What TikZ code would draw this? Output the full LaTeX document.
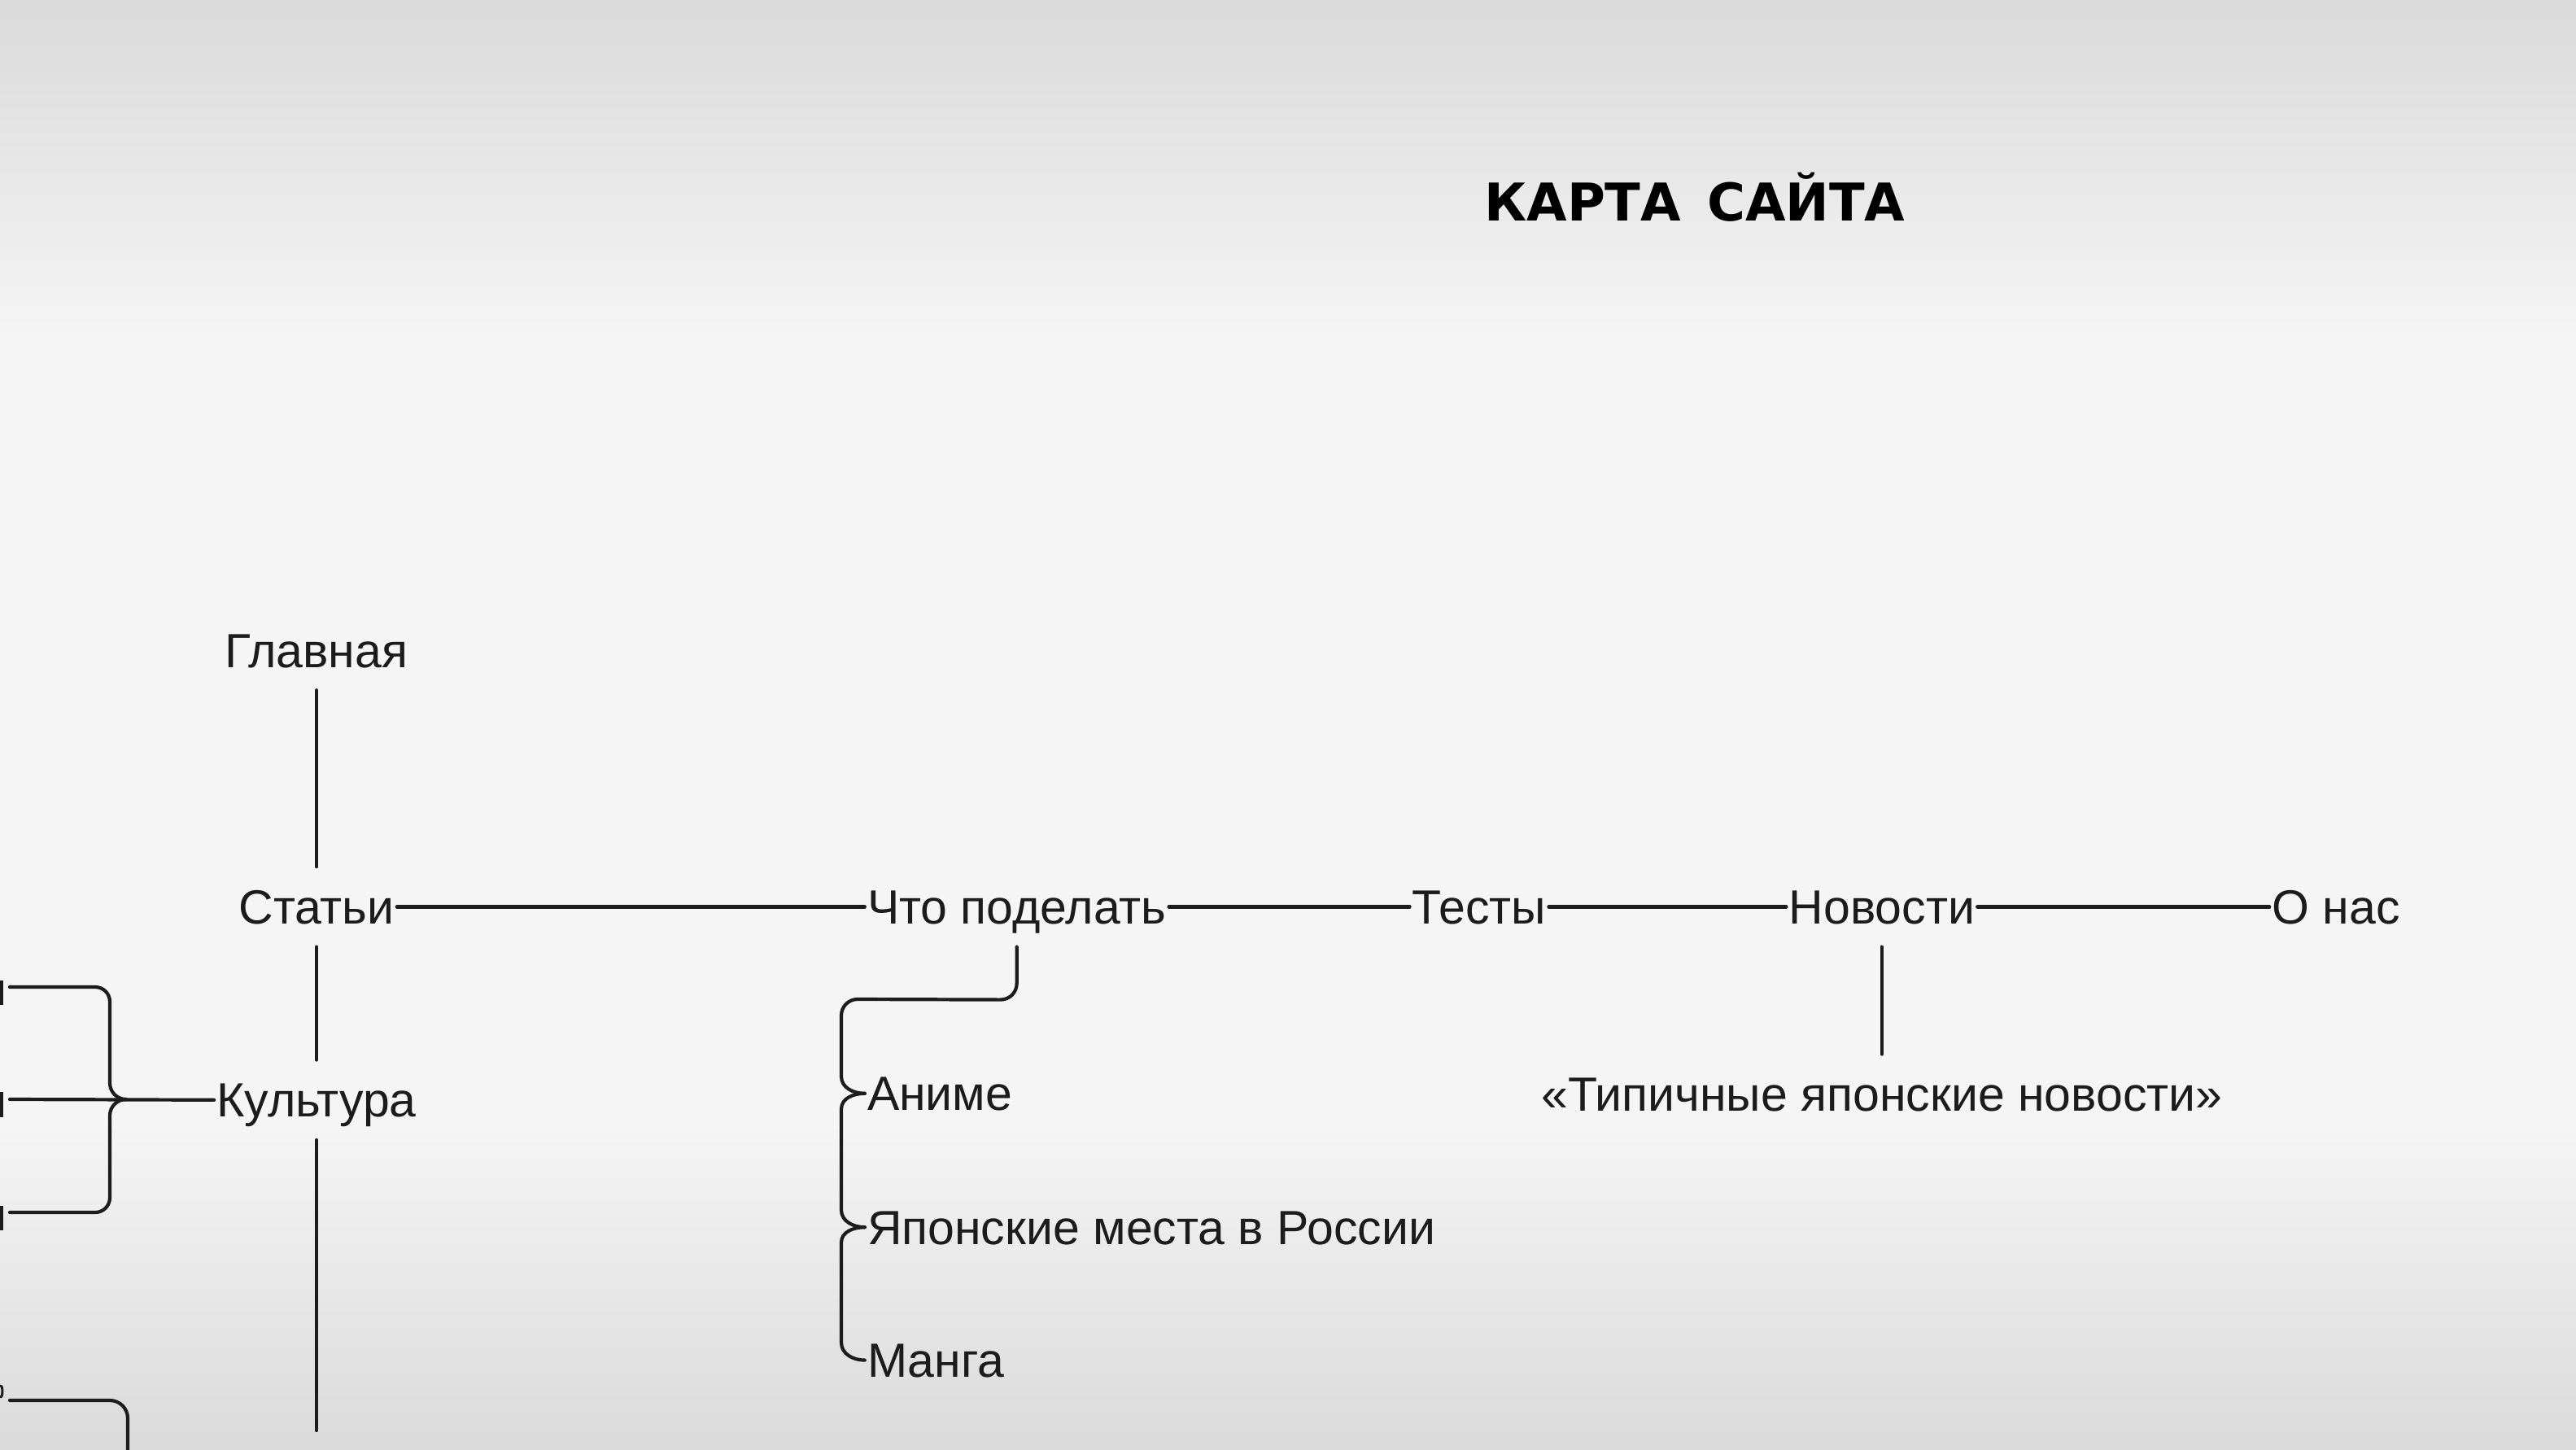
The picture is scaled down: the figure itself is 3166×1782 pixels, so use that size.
\documentclass[tikz,border=0pt]{standalone}
\usepackage{fontspec}
\setmainfont{Liberation Sans}
\newfontfamily\titlefont{DejaVu Sans}
\usepackage{tikz}
\usetikzlibrary{positioning}
\definecolor{ink}{HTML}{1C1C1C}
\definecolor{paper}{HTML}{F5F5F5}
\definecolor{haze}{HTML}{DADADA}

\begin{document}
\begin{tikzpicture}[x=1pt, y=-1pt,
  item/.style={inner xsep=3pt, inner ysep=28pt, text height=42pt, text depth=0pt,
    text=ink, font=\fontsize{59}{61}\selectfont},
  link/.style={draw=ink, line width=4.2pt, line cap=round},
  stub/.style={fill=ink}]
  % page
  \useasboundingbox (0,0) rectangle (3166,1782);
  \fill[paper] (0,0) rectangle (3166,1782);
  \shade[top color=haze, bottom color=paper] (0,0) rectangle (3166,420);
  \shade[top color=paper, bottom color=haze] (0,1380) rectangle (3166,1782);

  \node[anchor=base west, inner sep=0pt, text=black,
    font=\titlefont\bfseries\fontsize{64}{66}\selectfont] (title) at (1824,271) {КАРТА\hspace{0.5em}САЙТА};

  \node[item]                          (glavnaya)  at (389,799) {Главная};
  \node[item, below=217pt of glavnaya] (statyi)    {Статьи};
  \node[item, below=139pt of statyi]   (kultura)   {Культура};
  \node[item, right=575pt of statyi]   (chto)      {Что поделать};
  \node[item, right=296pt of chto]     (testy)     {Тесты};
  \node[item, right=292pt of testy]    (novosti)   {Новости};
  \node[item, right=359pt of novosti]  (onas)      {О нас};
  \node[item, below=132pt of novosti]  (tipichnye) {«Типичные японские новости»};
  \node[item, below right=131pt and 0pt of chto.south west]      (anime)     {Аниме};
  \node[item, below right=66pt and 0pt of anime.south west]      (yaponskie) {Японские места в России};
  \node[item, below right=65pt and 0pt of yaponskie.south west]  (manga)     {Манга};

  % free ends at the page edges
  \coordinate (kulturaEnd) at (kultura.south |- 0,1758);
  \coordinate (leftTop)    at (12,1213);
  \coordinate (leftMid)    at (12,1351);
  \coordinate (leftLow)    at (12,1490);
  \coordinate (cornerLeft) at (12,1721);
  \coordinate (cornerEnd)  at (157,1790);

  \draw[link] (glavnaya.south) -- (statyi.north);
  \draw[link] (statyi.south) -- (kultura.north);
  \draw[link] (kultura.south) -- (kulturaEnd);
  \draw[link] (statyi.east) -- (chto.west);
  \draw[link] (chto.east) -- (testy.west);
  \draw[link] (testy.east) -- (novosti.west);
  \draw[link] (novosti.east) -- (onas.west);
  \draw[link] (novosti.south) -- (tipichnye.north);

  % brace under Что поделать
  \draw[link] (chto.south) -- ++(0,45) to[out=-90,in=0] ++(-20,20) -- (1054,1228)
    to[out=180,in=90] (1034,1248) -- (1034,1323) to[out=-90,in=180] (anime.west);
  \draw[link] (anime.west) to[out=180,in=90] (1034,1363) -- (1034,1487)
    to[out=-90,in=180] (yaponskie.west);
  \draw[link] (yaponskie.west) to[out=180,in=90] (1034,1527) -- (1034,1650)
    to[out=-90,in=180] (manga.west);

  % brace left of Культура
  \draw[link] (kultura.west) -- (leftMid);
  \draw[link] (leftTop) -- (117,1213) to[out=0,in=90] (135,1231) -- (135,1331)
    to[out=-90,in=180] (155,1351);
  \draw[link] (leftLow) -- (117,1490) to[out=0,in=-90] (135,1472) -- (135,1371)
    to[out=90,in=180] (155,1351);
  \draw[link] (cornerLeft) -- (135,1721) to[out=0,in=90] (157,1743) -- (cornerEnd);

  % cut-off letters at the left edge
  \fill[stub] (0,1205) rectangle (4,1235);
  \fill[stub] (0,1342) rectangle (4,1373);
  \fill[stub] (0,1482) rectangle (4,1512);
  \draw[ink, line width=3pt] (0,1703) to[out=0,in=90] (3,1710) to[out=-90,in=0] (0,1717);
\end{tikzpicture}
\end{document}
